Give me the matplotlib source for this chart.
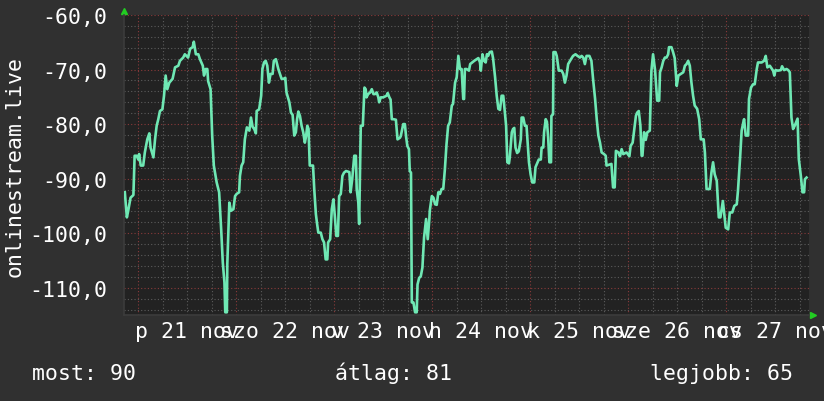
import matplotlib
matplotlib.use("Agg")
import matplotlib.pyplot as plt
from matplotlib.ticker import MultipleLocator, FuncFormatter, NullFormatter

# hours since 21 nov 00:00 and signal value
hours = [-3.3, -2.8, -2.5, -1.9, -1.2, -0.9, -0.4, 0.0, 0.2, 0.6, 1.2, 1.6, 2.2, 2.7, 3.0, 3.7,
         4.1, 4.5, 4.9, 5.3, 5.9, 6.3, 6.7, 7.1, 7.6, 8.4, 9.0, 9.8, 10.2, 11.0, 11.4, 12.2,
         12.7, 13.3, 13.6, 14.1, 14.7, 15.1, 15.8, 16.1, 16.5, 16.9, 17.1, 17.7, 18.1, 18.5,
         19.2, 19.8, 20.3, 20.7, 21.1, 21.3, 21.7, 21.8, 22.3, 22.7, 23.3, 23.7, 24.1, 24.7,
         24.9, 25.3, 25.7, 26.1, 26.6, 27.2, 27.6, 28.0, 28.4, 28.8, 29.0, 29.6, 30.1, 30.4,
         30.8, 31.2, 31.6, 32.0, 32.4, 32.9, 33.2, 33.7, 34.3, 34.7, 35.1, 35.8, 36.0, 36.3,
         37.0, 37.4, 37.8, 38.2, 38.6, 38.9, 39.2, 39.6, 40.0, 40.4, 40.8, 41.1, 41.4, 41.7,
         42.0, 42.8, 43.1, 43.5, 43.8, 44.1, 44.7, 45.1, 45.5, 45.9, 46.3, 46.5, 47.0, 47.4,
         47.8, 48.2, 48.5, 48.9, 49.2, 49.6, 50.0, 50.4, 50.9, 51.7, 52.0, 52.4, 52.9, 53.3,
         53.5, 53.9, 54.1, 54.5, 55.0, 55.4, 55.7, 55.9, 56.3, 56.8, 57.2, 57.6, 58.0, 58.4,
         58.8, 59.0, 59.4, 60.0, 60.8, 61.1, 61.5, 61.8, 62.1, 62.5, 63.1, 63.5, 64.1, 64.3,
         64.7, 64.9, 65.3, 65.6, 65.9, 66.3, 66.5, 66.8, 67.0, 67.4, 67.8, 68.2, 68.4, 68.8,
         69.2, 69.6, 70.0, 70.5, 70.7, 70.9, 71.3, 71.4, 71.9, 72.3, 72.7, 73.1, 73.5, 73.9,
         74.3, 74.7, 75.1, 75.5, 75.9, 76.3, 76.8, 77.1, 77.6, 78.0, 78.4, 78.8, 79.2, 79.6,
         79.8, 80.0, 80.4, 81.0, 81.3, 81.8, 82.3, 82.9, 83.3, 83.7, 83.9, 84.3, 84.7, 85.1,
         85.4, 85.7, 86.1, 86.6, 86.9, 87.4, 87.8, 88.2, 88.6, 89.0, 89.4, 89.6, 90.1, 90.4,
         90.8, 91.0, 91.5, 91.8, 92.1, 92.4, 92.8, 93.2, 93.7, 93.9, 94.3, 94.7, 95.1, 95.4,
         95.7, 96.1, 96.5, 97.0, 97.3, 97.7, 98.1, 98.6, 98.8, 99.2, 99.4, 99.8, 100.1, 100.4,
         100.7, 101.1, 101.2, 101.6, 101.7, 102.2, 102.5, 103.0, 103.7, 104.1, 104.5, 104.9,
         105.3, 106.0, 106.5, 107.1, 107.6, 108.2, 108.6, 109.0, 109.4, 109.8, 110.5, 111.0,
         111.4, 111.9, 112.3, 112.7, 113.1, 113.5, 114.1, 114.5, 114.7, 115.9, 116.3, 116.7,
         117.0, 117.6, 118.0, 118.4, 118.8, 119.6, 120.3, 120.6, 121.1, 121.5, 121.9, 122.2,
         122.6, 123.0, 123.3, 123.5, 123.9, 124.3, 124.7, 125.3, 125.7, 126.1, 126.6, 127.1,
         127.6, 127.8, 128.2, 128.6, 129.0, 129.4, 129.8, 130.0, 130.6, 131.0, 131.4, 131.9,
         132.3, 133.5, 133.9, 134.3, 134.7, 135.1, 135.5, 135.9, 136.3, 136.9, 137.4, 137.8,
         138.5, 138.8, 139.2, 140.0, 140.4, 140.8, 141.2, 141.7, 142.2, 142.6, 143.2, 143.5,
         143.9, 144.5, 144.9, 145.5, 146.0, 146.6, 146.9, 147.4, 147.8, 148.2, 148.4, 148.8,
         149.4, 149.6, 150.1, 150.6, 151.0, 151.5, 151.8, 152.7, 153.3, 153.7, 154.1, 154.7,
         155.5, 155.8, 156.1, 156.7, 157.4, 157.7, 158.2, 158.8, 159.2, 159.6, 160.0, 160.4,
         160.8, 161.5, 161.8, 162.3, 162.7, 163.1, 163.3, 163.7]
values = [-92.5, -97.1, -96.0, -93.5, -93.0, -85.8, -85.8, -86.5, -85.5, -87.6, -87.6, -85.2,
          -82.8, -81.7, -84.3, -86.1, -82.8, -80.3, -79.1, -77.6, -77.3, -74.8, -71.1, -73.6,
          -72.4, -71.7, -69.6, -69.3, -68.4, -67.8, -67.2, -67.8, -66.2, -65.9, -64.9, -67.2,
          -67.2, -68.1, -69.3, -71.1, -69.9, -69.9, -72.1, -73.6, -82.1, -87.6, -90.7, -92.5,
          -99.3, -105.4, -109.0, -114.5, -114.5, -105.7, -94.4, -95.9, -95.6, -93.2, -92.8,
          -92.5, -89.5, -87.6, -87.0, -82.8, -80.6, -81.2, -78.8, -80.5, -80.9, -81.7, -77.6,
          -77.3, -74.8, -69.9, -68.7, -68.4, -69.3, -72.4, -70.8, -70.8, -68.4, -68.1, -69.9,
          -70.8, -71.7, -71.7, -71.5, -74.2, -76.0, -77.9, -78.3, -82.1, -81.5, -79.1, -77.7,
          -78.5, -80.3, -81.5, -83.4, -82.2, -80.3, -80.9, -87.6, -87.6, -91.9, -96.5, -98.3,
          -99.9, -99.9, -101.1, -101.7, -104.8, -104.8, -101.7, -101.1, -95.6, -93.8, -97.4,
          -100.5, -100.5, -93.2, -92.8, -89.5, -88.9, -88.6, -88.8, -92.5, -90.1, -85.8, -85.8,
          -91.9, -94.4, -98.3, -80.3, -80.3, -73.3, -73.6, -75.1, -74.5, -74.2, -73.6, -74.5,
          -74.5, -74.2, -75.1, -76.0, -75.1, -75.1, -74.8, -74.3, -75.1, -75.5, -79.1, -79.1,
          -79.2, -82.8, -82.5, -82.2, -80.7, -80.0, -80.0, -82.3, -84.0, -84.6, -88.6, -88.9,
          -112.7, -112.7, -114.5, -114.5, -109.4, -108.2, -107.9, -106.3, -100.8, -97.4, -99.3,
          -101.1, -97.4, -95.9, -93.2, -93.5, -94.7, -94.8, -92.5, -92.8, -91.9, -91.9, -88.3,
          -83.7, -80.3, -79.7, -76.6, -76.3, -72.4, -71.4, -67.5, -69.9, -69.9, -75.4, -75.4,
          -69.9, -69.9, -70.2, -69.0, -68.7, -68.4, -68.1, -67.9, -68.7, -70.2, -67.2, -68.4,
          -68.7, -67.2, -67.5, -66.8, -66.7, -67.9, -71.4, -74.8, -77.2, -77.4, -74.8, -74.8,
          -76.3, -80.3, -87.0, -87.2, -86.1, -81.5, -80.9, -80.7, -84.3, -85.3, -85.0, -82.8,
          -78.8, -78.8, -80.3, -80.3, -83.7, -87.0, -89.2, -90.7, -90.7, -87.9, -87.2, -86.5,
          -86.5, -84.3, -84.3, -81.5, -79.1, -79.6, -82.4, -87.0, -87.0, -78.5, -78.2, -66.8,
          -66.8, -67.5, -70.2, -70.2, -70.8, -72.4, -71.1, -69.0, -68.1, -67.5, -67.2, -67.5,
          -67.8, -67.5, -67.8, -69.0, -67.5, -67.5, -68.4, -71.7, -75.4, -79.1, -82.1, -83.4,
          -85.2, -85.5, -85.8, -87.6, -87.3, -91.6, -91.6, -84.9, -85.2, -85.9, -84.6, -85.5,
          -85.2, -85.9, -84.0, -83.4, -80.9, -78.5, -77.9, -77.6, -80.3, -85.8, -85.8, -81.5,
          -82.9, -81.5, -81.2, -70.2, -67.2, -70.2, -75.7, -75.7, -70.5, -69.6, -68.4, -67.8,
          -67.8, -67.2, -65.9, -65.9, -66.8, -67.9, -73.0, -71.1, -70.5, -69.3, -69.0, -68.4,
          -69.3, -72.4, -74.8, -76.6, -77.2, -79.1, -82.8, -82.8, -85.2, -91.9, -91.9, -88.9,
          -87.0, -89.2, -90.4, -97.1, -97.1, -94.1, -96.2, -99.0, -99.3, -96.2, -96.2, -95.0,
          -94.7, -92.2, -86.4, -81.2, -79.7, -79.1, -82.1, -82.1, -75.4, -73.3, -72.7, -72.7,
          -69.9, -68.7, -68.7, -68.4, -67.5, -69.6, -69.3, -70.2, -71.1, -70.1, -70.2, -70.1,
          -69.4, -70.1, -69.9, -70.1, -70.5, -78.8, -80.9, -80.3, -79.0, -86.4, -89.5, -92.5,
          -92.5, -90.1, -89.8]

day_labels = ["p 21 nov", "szo 22 nov", "v 23 nov", "h 24 nov", "k 25 nov", "sze 26 nov", "cs 27 nov"]
series_name = "onlinestream.live"
legend_items = [("most", 90), ("átlag", 81), ("legjobb", 65)]

BG = "#303030"
PLOT_BG = "#222222"
LINE = "#6fe8b4"
FONT = "DejaVu Sans Mono"
FS = 15.5

fig = plt.figure(figsize=(8.24, 4.02), dpi=100, facecolor=BG)
ax = fig.add_axes([0.1505, 0.2139, 0.8313, 0.7463])
ax.set_facecolor(PLOT_BG)

ax.plot(hours, values, color=LINE, lw=1.9, zorder=3)

ax.set_xlim(-3.5, 164.3)
ax.set_ylim(-115, -60)

ax.xaxis.set_major_locator(MultipleLocator(24))
ax.xaxis.set_minor_locator(MultipleLocator(6))
ax.xaxis.set_major_formatter(NullFormatter())


def day_fmt(x, pos):
    if round(x) % 24 == 12:
        i = int(round(x)) // 24
        if 0 <= i < len(day_labels):
            return day_labels[i]
    return ""


ax.xaxis.set_minor_formatter(FuncFormatter(day_fmt))
ax.yaxis.set_major_locator(MultipleLocator(10))
ax.yaxis.set_minor_locator(MultipleLocator(2))
ax.yaxis.set_major_formatter(FuncFormatter(lambda v, p: f"{v:.1f}".replace(".", ",")))

ax.grid(which="minor", color="#5c5c5c", ls=(0, (1, 2)), lw=0.8, zorder=1)
ax.grid(which="major", color="#8a3a3a", ls=(0, (1, 2)), lw=0.8, zorder=2)

ax.tick_params(which="both", length=0, colors="white", labelsize=FS)
ax.tick_params(axis="y", pad=12)
ax.tick_params(axis="x", which="minor", pad=4)
for lab in ax.get_xticklabels(minor=True) + ax.get_yticklabels():
    lab.set_fontfamily(FONT)

for s in ["top", "right"]:
    ax.spines[s].set_visible(False)
for s in ["left", "bottom"]:
    ax.spines[s].set_color("#3c3c3c")
    ax.spines[s].set_linewidth(1.2)

# rrd style axis arrows
ax.plot([0], [1.012], marker="^", color="#22cc22", ms=5, transform=ax.transAxes, clip_on=False)
ax.plot([1.006], [0], marker=">", color="#22cc22", ms=5, transform=ax.transAxes, clip_on=False)

fig.text(0.018, 0.585, series_name, rotation=90, ha="center", va="center",
         color="white", fontsize=FS, family=FONT)

legend_x = [0.039, 0.407, 0.789]
for (name, val), lx in zip(legend_items, legend_x):
    fig.text(lx, 0.055, f"{name}: {val}", ha="left", va="baseline",
             color="white", fontsize=FS, family=FONT)

fig.savefig("out.png", dpi=100, facecolor=BG)
